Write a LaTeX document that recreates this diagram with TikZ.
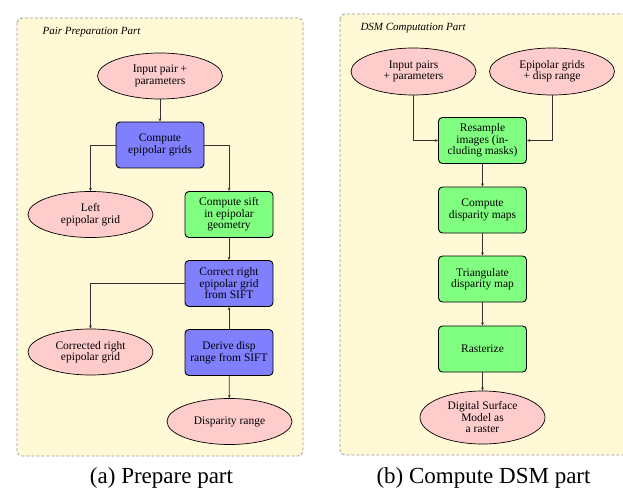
\documentclass[tikz,border=0pt]{standalone}
\usepackage{fontspec}
\setmainfont{Liberation Serif}
\usepackage{tikz}
\usepackage{xcolor}
\usetikzlibrary{positioning,shapes,arrows,arrows.meta}

\definecolor{partbg}{RGB}{255,249,214}
\definecolor{datafill}{RGB}{255,204,204}
\definecolor{stepblue}{RGB}{128,128,255}
\definecolor{stepgreen}{RGB}{128,255,128}

\begin{document}
\begin{tikzpicture}[x=1pt,y=-1pt]
\tikzstyle{every node}+=[font=\fontsize{11.5}{11.5}\selectfont, align=center]
\tikzstyle{part}=[draw=black!40, dash pattern=on 3pt off 2pt, line width=0.8pt, fill=partbg, rounded corners=5pt]
\tikzstyle{data}=[ellipse, draw, line width=0.7pt, fill=datafill, minimum width=125pt, minimum height=46pt, inner sep=0pt]
\tikzstyle{proc}=[rectangle, draw, line width=0.9pt, rounded corners=4pt, minimum width=88pt, minimum height=46pt, inner sep=1pt]
\tikzstyle{flow}=[draw=black!80, line width=0.8pt, -{Stealth[length=3.2pt,width=2.8pt]}]
\useasboundingbox (0,0) rectangle (623,489);

% left part
\draw [part] (17,18) rectangle (303,456);
\node [anchor=base west, font=\fontsize{11}{11}\selectfont\itshape] (titleA) at (39,35) {Pair Preparation Part};
\node [data] (inpair) at (160,76) {Input pair +\\parameters};
\node [proc, fill=stepblue] (epigrid) at (160,145) {Compute\\epipolar grids};
\node [data] (leftgrid) at (90.5,214.5) {Left\\epipolar grid};
\node [proc, fill=stepgreen] (sift) at (229,214.5) {Compute sift\\in epipolar\\geometry};
\node [proc, fill=stepblue] (corright) at (229,283.5) {Correct right\\epipolar grid\\from SIFT};
\node [data] (corrgrid) at (90.5,352) {Corrected right\\epipolar grid};
\node [proc, fill=stepblue] (derive) at (229,352.5) {Derive disp\\range from SIFT};
\node [data] (disprange) at (229.5,421.5) {Disparity range};
\draw [flow] (inpair) -- (epigrid);
\draw [flow] (epigrid.west) -| (leftgrid.north);
\draw [flow] (epigrid.east) -| (sift.north);
\draw [flow] (sift) -- (corright);
\draw [flow] (corright.west) -| (corrgrid.north);
\draw [flow] (derive) -- (corright);
\draw [flow] (derive) -- (disprange);
\node [anchor=base, font=\fontsize{23}{23}\selectfont] (capA) at (161.5,483) {(a) Prepare part};

% right part
\draw [part] (340,14) rectangle (640,455);
\node [anchor=base west, font=\fontsize{11}{11}\selectfont\itshape] (titleB) at (357,31) {DSM Computation Part};
\node [data, minimum height=47pt] (inpairs) at (413.5,71.5) {Input pairs\\+ parameters};
\node [data, minimum height=47pt] (epigrids) at (552,71.5) {Epipolar grids\\+ disp range};
\node [proc, fill=stepgreen] (resample) at (482.5,140.5) {Resample\\images (in-\\cluding masks)};
\node [proc, fill=stepgreen] (dispmaps) at (482.5,210) {Compute\\disparity maps};
\node [proc, fill=stepgreen] (triang) at (482.5,279) {Triangulate\\disparity map};
\node [proc, fill=stepgreen] (raster) at (482.5,349) {Rasterize};
\node [data, minimum height=53pt] (dsm) at (482.5,417.5) {Digital Surface\\Model as\\a raster};
\draw [flow] (inpairs.south) |- (resample.west);
\draw [flow] (epigrids.south) |- (resample.east);
\draw [flow] (resample) -- (dispmaps);
\draw [flow] (dispmaps) -- (triang);
\draw [flow] (triang) -- (raster);
\draw [flow] (raster) -- (dsm);
\node [anchor=base, font=\fontsize{23}{23}\selectfont] (capB) at (483.5,483) {(b) Compute DSM part};
\end{tikzpicture}
\end{document}
